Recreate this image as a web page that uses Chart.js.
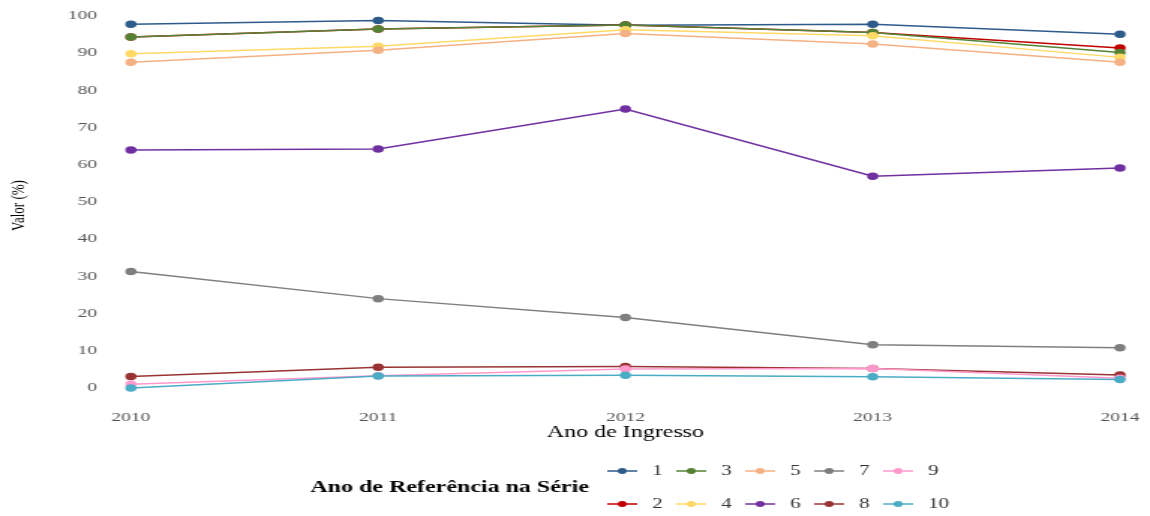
<!DOCTYPE html>
<html>
<head>
<meta charset="utf-8">
<script src="https://cdn.jsdelivr.net/npm/chart.js@4.4.1/dist/chart.umd.min.js"></script>
<style>
  html, body { margin: 0; padding: 0; background: #fff; overflow: hidden; }
  /* the reference is stretched sideways, so draw narrow and widen */
  #wrap { width: 767px; height: 516px; transform: scaleX(1.4993); transform-origin: 0 0; }
</style>
</head>
<body>
<div id="wrap"><canvas id="chart"></canvas></div>
<script>
const years = ["2010", "2011", "2012", "2013", "2014"];
const yTicks = [0, 10, 20, 30, 40, 50, 60, 70, 80, 90, 100];
const serieNames = ["1", "2", "3", "4", "5", "6", "7", "8", "9", "10"];
const serieColors = ["#2E5C8A", "#C00000", "#548235", "#FFD966", "#F4B183",
                     "#7030A0", "#7F7F7F", "#993333", "#FF99CC", "#4BACC6"];

const serie1 = [97.7, 98.7, 97.4, 97.7, 95.0];
const serie2 = [94.3, 96.4, 97.5, 95.5, 91.3];
const serie3 = [94.3, 96.4, 97.5, 95.5, 90.1];
const serie4 = [89.8, 91.8, 96.2, 94.6, 88.8];
const serie5 = [87.5, 90.7, 95.2, 92.4, 87.5];
const serie6 = [63.9, 64.2, 74.9, 56.9, 59.1];
const serie7 = [31.3, 24.0, 18.9, 11.6, 10.8];
const serie8 = [3.1, 5.6, 5.8, 5.2, 3.5];
const serie9 = [1.0, 3.3, 5.1, 5.2, 2.6];
const serie10 = [0.0, 3.2, 3.4, 3.0, 2.3];

const allSeries = [serie1, serie2, serie3, serie4, serie5, serie6, serie7, serie8, serie9, serie10];
const legendTitle = "Ano de Referência na Série";
const serif = "'Liberation Serif', 'Times New Roman', serif";

const datasets = allSeries.map((data, i) => ({
  label: serieNames[i],
  data: data,
  borderColor: serieColors[i],
  backgroundColor: serieColors[i],
  borderWidth: 1.5,
  pointRadius: 3,
  pointHoverRadius: 3,
  tension: 0,
  order: allSeries.length - i, // later series drawn on top
}));

// legend drawn by hand: title on the left, items column by column
const serieLegend = {
  id: "serieLegend",
  afterDraw(chart) {
    const ctx = chart.ctx;
    ctx.save();
    ctx.textBaseline = "middle";
    ctx.fillStyle = "#000";
    ctx.font = "bold 16px " + serif;
    ctx.fillText(legendTitle, 207, 488);
    ctx.font = "14px " + serif;
    chart.data.datasets.forEach((ds, i) => {
      const x = 405 + Math.floor(i / 2) * 46;
      const y = i % 2 === 0 ? 471 : 504;
      ctx.strokeStyle = ds.borderColor;
      ctx.lineWidth = 1.5;
      ctx.beginPath();
      ctx.moveTo(x, y);
      ctx.lineTo(x + 20, y);
      ctx.stroke();
      ctx.fillStyle = ds.backgroundColor;
      ctx.beginPath();
      ctx.arc(x + 10, y, 3, 0, Math.PI * 2);
      ctx.fill();
      ctx.fillStyle = "#333";
      ctx.fillText(ds.label, x + 30, y);
    });
    ctx.restore();
  },
};

new Chart(document.getElementById("chart"), {
  type: "line",
  data: { labels: years, datasets: datasets },
  plugins: [serieLegend],
  options: {
    responsive: true,
    maintainAspectRatio: false,
    animation: false,
    layout: { padding: { top: 1, right: 20, bottom: 66, left: 0 } },
    plugins: { legend: { display: false }, tooltip: { enabled: false } },
    scales: {
      x: {
        offset: false,
        grid: { display: false, drawTicks: false },
        border: { display: false },
        ticks: { color: "#555", padding: 3, font: { family: serif, size: 13 } },
        title: {
          display: true,
          text: "Ano de Ingresso",
          color: "#000",
          font: { family: serif, size: 16 },
          padding: { top: 0, bottom: 8 },
        },
        afterFit(scale) { scale.height = 43.4; },
      },
      y: {
        min: -5,
        max: 103,
        grid: { display: false, drawTicks: false },
        border: { display: false },
        afterBuildTicks(scale) { scale.ticks = yTicks.map(v => ({ value: v })); },
        ticks: { color: "#555", padding: 22.6, font: { family: serif, size: 13 } },
        title: {
          display: true,
          text: "Valor (%)",
          color: "#000",
          font: { family: serif, size: 13 },
          padding: { top: 5, bottom: 0 },
        },
        afterFit(scale) {
          scale.width = 87.3;
          scale.paddingTop = 0;
          scale.paddingBottom = 0;
        },
      },
    },
  },
});
</script>
</body>
</html>
